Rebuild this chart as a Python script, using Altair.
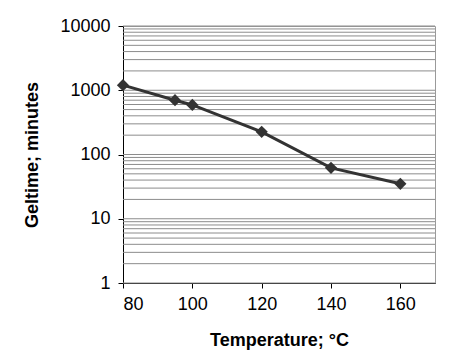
import altair as alt
import pandas as pd

temperature = [80, 95, 100, 120, 140, 160]
geltime = [1200, 700, 590, 225, 62, 35]

grid_values = [m * 10 ** e for e in range(0, 4) for m in range(1, 10)] + [10000]
major_ticks = [1, 10, 100, 1000, 10000]
x_ticks = [80, 100, 120, 140, 160]

df = pd.DataFrame({"t": temperature, "g": geltime})
grid_df = pd.DataFrame({"v": grid_values})

font = "Liberation Sans"

y_scale = alt.Scale(type="log", domain=[1, 10000], nice=False)
x_scale = alt.Scale(domain=[80, 170], nice=False, zero=False)

x_axis = alt.Axis(values=x_ticks, title="Temperature; °C", grid=False,
                  domainColor="black", tickColor="black", tickSize=5,
                  labelFontSize=18, labelColor="black", labelFont=font,
                  labelPadding=7, titleFont=font, titleFontSize=18,
                  titleColor="black", titlePadding=18)
y_axis = alt.Axis(values=major_ticks, title="Geltime; minutes", grid=False,
                  format="d", domainColor="black", tickColor="black",
                  tickSize=5, labelFontSize=18, labelColor="black",
                  labelFont=font, labelPadding=8, titleFont=font,
                  titleFontSize=18, titleColor="black", titlePadding=18)

grid = alt.Chart(grid_df).mark_rule(color="#8c8c8c", strokeWidth=1).encode(
    y=alt.Y("v:Q", scale=y_scale, axis=y_axis),
)

line = alt.Chart(df).mark_line(color="#333333", strokeWidth=3).encode(
    x=alt.X("t:Q", scale=x_scale, axis=x_axis),
    y=alt.Y("g:Q", scale=y_scale, axis=y_axis),
)

points = alt.Chart(df).mark_point(shape="diamond", filled=True, color="#333333",
                                  size=150, opacity=1).encode(
    x=alt.X("t:Q", scale=x_scale, axis=x_axis),
    y=alt.Y("g:Q", scale=y_scale, axis=y_axis),
)

chart = alt.layer(grid, line, points).properties(
    width=312, height=257,
    padding={"left": 115, "top": 18, "right": 8, "bottom": 68},
    autosize=alt.AutoSizeParams(type="none"),
).configure_view(stroke="#9a9a9a", strokeWidth=1).configure_axis(
    titleFontWeight="bold"
)

chart.save("out.html", embed_options={"renderer": "svg", "actions": False})
